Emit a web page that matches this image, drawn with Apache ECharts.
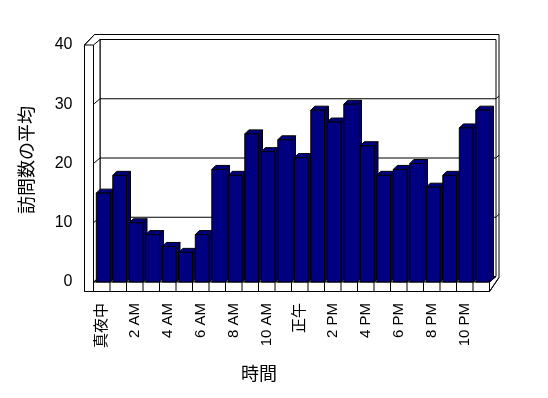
<!DOCTYPE html>
<html>
<head>
<meta charset="utf-8">
<script src="https://cdn.jsdelivr.net/npm/echarts@6/dist/echarts.min.js"></script>
<style>
  html, body { margin: 0; padding: 0; background: #fff; }
  #chart { width: 548px; height: 398px; }
</style>
</head>
<body>
<div id="chart"></div>
<script>
// 時間ごとの訪問数の平均
const hours = [
  '真夜中', '1 AM', '2 AM', '3 AM', '4 AM', '5 AM', '6 AM', '7 AM', '8 AM', '9 AM', '10 AM', '11 AM',
  '正午', '1 PM', '2 PM', '3 PM', '4 PM', '5 PM', '6 PM', '7 PM', '8 PM', '9 PM', '10 PM', '11 PM'
]
const visits = [15, 18, 10, 8, 6, 5, 8, 19, 18, 25, 22, 24, 21, 29, 27, 30, 23, 18, 19, 20, 16, 18, 26, 29]
const yMin = 0
const yMax = 40
const yStep = 10
const yTitle = '訪問数の平均'
const xTitle = '時間'

const chart = echarts.init(document.getElementById('chart'))
const font = '"Liberation Sans", "Noto Sans CJK JP", sans-serif'
const navy = '#000080'

// 3D の枠 (左の壁・奥の壁・床)
function renderFrame (params, api) {
  const bw = api.size([1, 0])[0]
  const L = api.coord([0, yMin])[0] - bw / 2
  const R = L + bw * hours.length
  const B = api.coord([0, yMin])[1]
  const T = api.coord([0, yMax])[1]
  const W = 9, F = 9.5, DX = 6.5, DY = -5.5, OX = 10, OY = -10.5
  const line = { stroke: '#000', lineWidth: 1, fill: null }
  const box = { stroke: '#000', lineWidth: 1, fill: '#fff' }
  const kids = []
  // 外形
  kids.push({ type: 'polygon', shape: { points: [
    [L - W, B + F], [L - W, T], [L - W + OX, T + OY], [R + DX + 3, T + OY],
    [R + DX + 3, B + DY + 1], [R, B + F]
  ] }, style: box })
  // 奥の壁
  kids.push({ type: 'rect', shape: { x: L + DX, y: T + DY, width: R - L, height: B - T }, style: box })
  // 床の上面
  kids.push({ type: 'polygon', shape: { points: [[L, B], [R, B], [R + DX, B + DY], [L + DX, B + DY]] }, style: box })
  // 左の壁の内側
  kids.push({ type: 'polygon', shape: { points: [[L, T], [L + DX, T + DY], [L + DX, B + DY], [L, B]] }, style: box })
  // 目盛り線
  for (let v = yMin + yStep; v < yMax; v += yStep) {
    const y = api.coord([0, v])[1]
    kids.push({ type: 'polyline', shape: { points: [[L - W, y], [L, y], [L + DX, y + DY], [R + DX, y + DY], [R + DX + 3, y + DY - 3]] }, style: line })
  }
  // 左の壁の前面
  kids.push({ type: 'rect', shape: { x: L - W, y: T, width: W, height: B + F - T }, style: box })
  kids.push({ type: 'line', shape: { x1: L - W, y1: T, x2: L - W + OX, y2: T + OY }, style: line })
  // 床の前面
  kids.push({ type: 'rect', shape: { x: L, y: B, width: R - L, height: F }, style: box })
  for (let i = 1; i < hours.length; i++) {
    const x = L + bw * i
    kids.push({ type: 'line', shape: { x1: x, y1: B, x2: x, y2: B + F }, style: line })
  }
  kids.push({ type: 'line', shape: { x1: R, y1: B + F, x2: R + DX + 3, y2: B + DY + 1 }, style: line })
  kids.push({ type: 'line', shape: { x1: R, y1: B, x2: R + DX, y2: B + DY }, style: line })
  return { type: 'group', children: kids }
}

// 3D の棒
function renderBar (params, api) {
  const bw = api.size([1, 0])[0]
  const c = api.coord([api.value(0), api.value(1)])
  const base = api.coord([api.value(0), yMin])[1]
  const x0 = c[0] - bw / 2 + bw * 0.17
  const x1 = c[0] + bw / 2
  const top = c[1]
  const d = 4
  const st = { stroke: '#000', lineWidth: 1 }
  return {
    type: 'group',
    children: [
      { type: 'polygon', shape: { points: [[x1, top], [x1 + d, top - d], [x1 + d, base - d], [x1, base]] }, style: Object.assign({ fill: '#000066' }, st) },
      { type: 'polygon', shape: { points: [[x0, top], [x1, top], [x1 + d, top - d], [x0 + d, top - d]] }, style: Object.assign({ fill: navy }, st) },
      { type: 'rect', shape: { x: x0, y: top, width: x1 - x0, height: base - top }, style: Object.assign({ fill: navy }, st) }
    ]
  }
}

const options = {
  animation: false,
  grid: { left: 93.5, top: 45, width: 396, height: 237 },
  xAxis: {
    type: 'category',
    data: hours,
    axisLine: { show: false },
    axisTick: { show: false },
    axisLabel: { interval: 1, rotate: 90, margin: 21, fontSize: 15, color: '#000', fontFamily: font }
  },
  yAxis: {
    type: 'value',
    min: yMin,
    max: yMax,
    interval: yStep,
    axisLine: { show: false },
    axisTick: { show: false },
    splitLine: { show: false },
    axisLabel: { margin: 21, fontSize: 16, color: '#000', fontFamily: font }
  },
  graphic: [
    { type: 'text', x: 28, y: 160, rotation: Math.PI / 2, style: { text: yTitle, fontSize: 18, fontFamily: font, fill: '#000', align: 'center', verticalAlign: 'middle' } },
    { type: 'text', x: 259, y: 375, style: { text: xTitle, fontSize: 18, fontFamily: font, fill: '#000', align: 'center', verticalAlign: 'middle' } }
  ],
  series: [
    { type: 'custom', z: 1, silent: true, renderItem: renderFrame, data: [[0, 0]], encode: { x: 0, y: 1 } },
    { type: 'custom', z: 2, renderItem: renderBar, data: visits.map((v, i) => [i, v]), encode: { x: 0, y: 1 } }
  ]
}

chart.setOption(options)
</script>
</body>
</html>
